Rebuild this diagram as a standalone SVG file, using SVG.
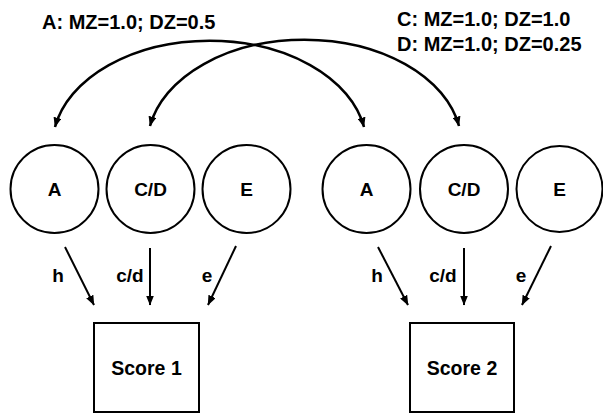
<svg xmlns="http://www.w3.org/2000/svg" width="603" height="414" viewBox="0 0 603 414">
  <style>
    .lbl { font-family: "Liberation Sans", Arial, sans-serif; font-weight: bold; fill: #000; }
    .node { fill: #fff; stroke: #000; stroke-width: 2; }
    .edge { fill: none; stroke: #000; stroke-width: 2; marker-end: url(#ah); }
    .arc { fill: none; stroke: #000; stroke-width: 2.5; marker-start: url(#ah); marker-end: url(#ah); }
  </style>
  <defs>
    <marker id="ah" viewBox="0 0 10 8" refX="9.5" refY="4" markerWidth="10" markerHeight="8" markerUnits="userSpaceOnUse" orient="auto-start-reverse">
      <path d="M0,0 L10,4 L0,8 z" fill="#000"/>
    </marker>
  </defs>
  <rect width="603" height="414" fill="#fff"/>

  <g id="connectors">
    <path class="arc" d="M 55 127 A 157 105 0 0 1 364 127"/>
    <path class="arc" d="M 150 126 A 157 105 0 0 1 459 126"/>
    <line class="edge" x1="65" y1="247" x2="94" y2="305"/>
    <line class="edge" x1="150" y1="248" x2="150" y2="305"/>
    <line class="edge" x1="236" y1="246" x2="208" y2="305"/>
    <line class="edge" x1="378" y1="247" x2="408" y2="305"/>
    <line class="edge" x1="464" y1="248" x2="464" y2="305"/>
    <line class="edge" x1="551" y1="246" x2="522" y2="305"/>
  </g>

  <g id="edge-labels" class="lbl" font-size="19" text-anchor="middle">
    <text x="58" y="282">h</text>
    <text x="130" y="282">c/d</text>
    <text x="207" y="282">e</text>
    <text x="377" y="282">h</text>
    <text x="443" y="282">c/d</text>
    <text x="521" y="282">e</text>
  </g>

  <g id="title-a" class="lbl" font-size="20">
    <text x="42" y="29">A: MZ=1.0; DZ=0.5</text>
  </g>
  <g id="title-cd" class="lbl" font-size="20">
    <text x="397" y="26">C: MZ=1.0; DZ=1.0</text>
    <text x="397" y="51">D: MZ=1.0; DZ=0.25</text>
  </g>

  <g id="A1"><circle class="node" cx="54.5" cy="189" r="44"/><text class="lbl" x="54.5" y="196" font-size="19" text-anchor="middle">A</text></g>
  <g id="CD1"><circle class="node" cx="150.5" cy="189" r="44"/><text class="lbl" x="150.5" y="196" font-size="19" text-anchor="middle">C/D</text></g>
  <g id="E1"><circle class="node" cx="246.5" cy="189" r="44"/><text class="lbl" x="246.5" y="196" font-size="19" text-anchor="middle">E</text></g>
  <g id="A2"><circle class="node" cx="366.5" cy="189" r="44"/><text class="lbl" x="366.5" y="196" font-size="19" text-anchor="middle">A</text></g>
  <g id="CD2"><circle class="node" cx="464" cy="189" r="44"/><text class="lbl" x="464" y="196" font-size="19" text-anchor="middle">C/D</text></g>
  <g id="E2"><circle class="node" cx="559.5" cy="189" r="43"/><text class="lbl" x="559.5" y="196" font-size="19" text-anchor="middle">E</text></g>

  <g id="Score1"><rect class="node" x="94" y="323" width="105" height="89"/><text class="lbl" x="146.5" y="375" font-size="19.5" text-anchor="middle">Score 1</text></g>
  <g id="Score2"><rect class="node" x="410" y="323" width="104" height="89"/><text class="lbl" x="462" y="375" font-size="19.5" text-anchor="middle">Score 2</text></g>
</svg>
